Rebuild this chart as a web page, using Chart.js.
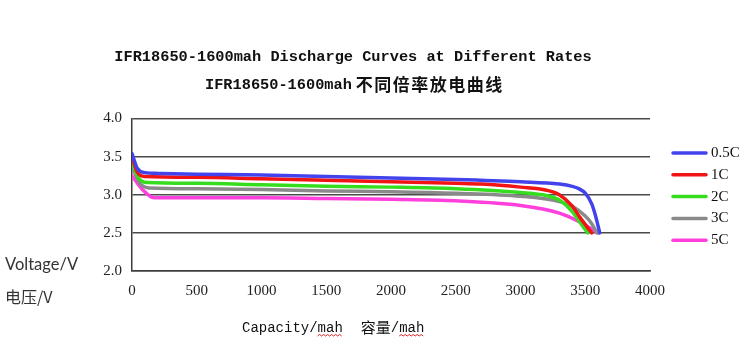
<!DOCTYPE html>
<html>
<head>
<meta charset="utf-8">
<script src="https://cdn.jsdelivr.net/npm/chart.js@4.4.1/dist/chart.umd.min.js"></script>
<style>
  body { margin: 0; background: #fff; }
  canvas { display: block; }
</style>
</head>
<body>
<canvas id="dischargeChart" width="756" height="344"></canvas>
<script>
// series labels and colours
const rateLabels = ['0.5C', '1C', '2C', '3C', '5C'];
const rateColors = ['#4343ee', '#f01414', '#36dc1e', '#8a8a8a', '#ff40dc'];

// capacity (mAh) / voltage (V)
const cap05 = [0, 40, 100, 200, 500, 1000, 1500, 2000, 2500, 3000, 3300, 3400, 3450, 3500, 3550, 3580, 3612];
const volt05 = [3.54, 3.35, 3.29, 3.28, 3.27, 3.26, 3.24, 3.22, 3.20, 3.17, 3.14, 3.11, 3.08, 3.02, 2.88, 2.72, 2.5];

const cap1 = [0, 40, 100, 500, 1000, 1500, 2000, 2500, 2700, 3000, 3200, 3300, 3400, 3460, 3550];
const volt1 = [3.50, 3.30, 3.24, 3.23, 3.21, 3.19, 3.17, 3.15, 3.14, 3.10, 3.06, 3.00, 2.85, 2.70, 2.5];

const cap2 = [0, 50, 120, 500, 1000, 1500, 2000, 2500, 3000, 3200, 3300, 3400, 3450, 3520];
const volt2 = [3.45, 3.22, 3.16, 3.15, 3.13, 3.11, 3.10, 3.08, 3.03, 2.99, 2.93, 2.78, 2.66, 2.5];

const cap3 = [0, 60, 130, 500, 1000, 1500, 2000, 2500, 3000, 3300, 3400, 3500, 3550, 3590];
const volt3 = [3.38, 3.15, 3.09, 3.08, 3.07, 3.05, 3.04, 3.02, 2.98, 2.91, 2.85, 2.72, 2.62, 2.5];

const cap5 = [0, 80, 170, 500, 1000, 1500, 2000, 2500, 3000, 3300, 3450, 3550, 3600];
const volt5 = [3.25, 3.07, 2.96, 2.96, 2.96, 2.95, 2.94, 2.92, 2.86, 2.76, 2.65, 2.55, 2.5];

const capSeries = [cap05, cap1, cap2, cap3, cap5];
const voltSeries = [volt05, volt1, volt2, volt3, volt5];

// axis ticks
const xTicks = [0, 500, 1000, 1500, 2000, 2500, 3000, 3500, 4000];
const yTicks = [2.0, 2.5, 3.0, 3.5, 4.0];

const titleEn = 'IFR18650-1600mah Discharge Curves at Different Rates';
const titleZhLatin = 'IFR18650-1600mah';
const titleZh = '不同倍率放电曲线';

const datasets = rateLabels.map((label, i) => ({
  label: label,
  data: capSeries[i].map((c, j) => ({ x: c, y: voltSeries[i][j] })),
  borderColor: rateColors[i],
  backgroundColor: rateColors[i],
  borderWidth: 3.5,
  pointRadius: 0,
  cubicInterpolationMode: 'monotone',
  borderJoinStyle: 'round',
  borderCapStyle: 'round',
  fill: false
}));

function wavy(ctx, x1, x2, y) {
  ctx.save();
  ctx.strokeStyle = '#e02020';
  ctx.lineWidth = 1;
  ctx.beginPath();
  ctx.moveTo(x1, y);
  let up = true;
  for (let x = x1 + 2; x <= x2; x += 2) {
    ctx.lineTo(x, up ? y - 1.5 : y);
    up = !up;
  }
  ctx.stroke();
  ctx.restore();
}

const textPlugin = {
  id: 'textPlugin',
  afterDraw(chart) {
    const ctx = chart.ctx;
    ctx.save();
    ctx.fillStyle = '#111';
    ctx.textBaseline = 'middle';

    // title line 1
    ctx.font = 'bold 15.3px "Liberation Mono", monospace';
    ctx.textAlign = 'center';
    ctx.fillText(titleEn, 353, 57);

    // title line 2 (latin + chinese)
    ctx.textAlign = 'left';
    const latinFont = 'bold 15.3px "Liberation Mono", monospace';
    const zhFont = 'bold 17px "Noto Sans CJK SC"';
    ctx.font = latinFont;
    const w1 = ctx.measureText(titleZhLatin).width;
    ctx.font = zhFont;
    ctx.letterSpacing = '1.5px';
    const w2 = ctx.measureText(titleZh).width;
    const startX = 205;
    ctx.font = latinFont;
    ctx.letterSpacing = '0px';
    ctx.fillText(titleZhLatin, startX, 85);
    ctx.font = zhFont;
    ctx.letterSpacing = '1.5px';
    ctx.fillText(titleZh, startX + w1 + 4, 85);
    ctx.letterSpacing = '0px';

    // y axis name, bottom left
    ctx.fillStyle = '#333';
    ctx.font = '16.5px Lato, "Open Sans", sans-serif';
    ctx.fillText('Voltage/V', 5, 265);
    ctx.font = '16px "Noto Sans CJK SC"';
    ctx.fillText('电压/V', 5, 297);

    // x axis name
    ctx.fillStyle = '#111';
    ctx.font = '14px "Liberation Mono", monospace';
    const a = 'Capacity/';
    const m = 'mah';
    let x = 242;
    ctx.fillText(a, x, 328);
    x += ctx.measureText(a).width;
    ctx.fillText(m, x, 328);
    const mw = ctx.measureText(m).width;
    wavy(ctx, x, x + mw, 336);
    x += mw + 18;
    ctx.font = '15px "Noto Sans CJK SC"';
    ctx.fillText('容量', x, 327);
    x += ctx.measureText('容量').width;
    ctx.font = '14px "Liberation Mono", monospace';
    ctx.fillText('/', x, 328);
    x += ctx.measureText('/').width;
    ctx.fillText(m, x, 328);
    wavy(ctx, x, x + mw, 336);

    // legend on the right
    ctx.font = '15px "Liberation Serif", serif';
    chart.data.datasets.forEach((ds, i) => {
      const y = 153 + i * 21.8;
      ctx.strokeStyle = ds.borderColor;
      ctx.lineWidth = 3.5;
      ctx.lineCap = 'round';
      ctx.beginPath();
      ctx.moveTo(673, y);
      ctx.lineTo(706, y);
      ctx.stroke();
      ctx.fillStyle = '#111';
      ctx.fillText(ds.label, 711, y);
    });
    ctx.restore();
  }
};

new Chart(document.getElementById('dischargeChart'), {
  type: 'line',
  data: { datasets: datasets },
  plugins: [textPlugin],
  options: {
    responsive: false,
    animation: false,
    layout: { padding: { top: 118.5, left: 91, right: 106, bottom: 0 } },
    plugins: {
      legend: { display: false },
      title: { display: false },
      tooltip: { enabled: false }
    },
    scales: {
      x: {
        type: 'linear',
        min: 0,
        max: 4000,
        afterBuildTicks: (scale) => { scale.ticks = xTicks.map(v => ({ value: v })); },
        afterFit: (scale) => { scale.height = 73; },
        grid: { display: false, drawTicks: false },
        border: { display: true, color: '#3c3c3c', width: 1.5 },
        ticks: {
          padding: 11,
          color: '#222',
          font: { family: '"Liberation Serif", serif', size: 15 },
          maxRotation: 0,
          callback: (v) => String(v)
        }
      },
      y: {
        min: 2,
        max: 4,
        afterBuildTicks: (scale) => { scale.ticks = yTicks.map(v => ({ value: v })); },
        afterFit: (scale) => { scale.width = 41; },
        grid: { color: '#4a4a4a', lineWidth: 1.5, drawTicks: false },
        border: { display: true, color: '#3c3c3c', width: 1.5 },
        ticks: {
          padding: 10,
          color: '#222',
          font: { family: '"Liberation Serif", serif', size: 15 },
          callback: (v) => Number(v).toFixed(1)
        }
      }
    }
  }
});
</script>
</body>
</html>
